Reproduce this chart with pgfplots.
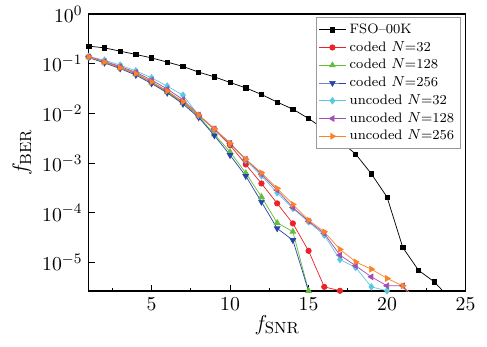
\documentclass[border=0pt]{standalone}
\usepackage{pgfplots}
\pgfplotsset{compat=1.18}
\definecolor{cred}{RGB}{235,35,40}
\definecolor{cgreen}{RGB}{100,190,60}
\definecolor{cblue}{RGB}{40,70,170}
\definecolor{ccyan}{RGB}{90,200,225}
\definecolor{cpurple}{RGB}{160,80,180}
\definecolor{corange}{RGB}{250,130,40}
\begin{document}
\begin{tikzpicture}
\path[use as bounding box] (-49.3pt,-30.6pt) rectangle (221.2pt,161.7pt);
\begin{axis}[
  at={(0,0)}, anchor=south west,
  scale only axis, width=209.3pt, height=153.9pt,
  ymode=log,
  xmin=1, xmax=25, ymin=2.66e-6, ymax=1,
  xtick={5,10,15,20,25},
  minor xtick={2.5,7.5,12.5,17.5,22.5},
  ytick={1,1e-1,1e-2,1e-3,1e-4,1e-5},
  tick pos=left,
  tick align=inside,
  major tick length=3.5pt, minor tick length=2pt,
  tick label style={font=\fontsize{11}{13}\selectfont},
  label style={font=\fontsize{12.5}{14}\selectfont},
  xlabel={$f_{\mathrm{SNR}}$},
  ylabel={$f_{\mathrm{BER}}$},
  xlabel style={yshift=4pt},
  ylabel style={yshift=-1pt},
  axis line style={line width=0.8pt},
  every tick/.style={black, line width=0.5pt},
  legend style={at={(0.988,0.99)}, anchor=north east, draw=gray!80, line width=0.6pt,
    font=\fontsize{7.6}{9}\selectfont, row sep=-1.1pt, inner sep=1.5pt},
  legend cell align=left,
  legend image code/.code={
    \draw[mark repeat=2,mark phase=2,#1] plot coordinates {(0cm,0cm) (0.26cm,0cm) (0.52cm,0cm)};},
  every axis plot/.append style={line width=0.4pt, mark size=1.5pt},
]
\addplot[black, mark=square*, mark size=1.2pt] coordinates {
(1,0.226)(2,0.209)(3,0.179)(4,0.154)(5,0.131)(6,0.108)(7,0.0883)(8,0.0678)(9,0.0545)(10,0.042)(11,0.0327)(12,0.0241)(13,0.0169)(14,0.0122)(15,0.0079)(16,0.0048)(17,0.0028)(18,0.00152)(19,6.1e-4)(20,2.07e-4)(21,2.01e-5)(22,7.0e-6)(23,4.1e-6)(24,1.9e-6)};
\addlegendentry{FSO--00K}
\addplot[cred, mark=*, mark options={fill=cred}] coordinates {
(1,0.138)(2,0.109)(3,0.0843)(4,0.0638)(5,0.0432)(6,0.0281)(7,0.0171)(8,0.00912)(9,0.00476)(10,0.0023)(11,9.4e-4)(12,3.9e-4)(13,1.55e-4)(14,6.12e-5)(15,1.72e-5)(16,3.24e-6)(17,2.7e-6)};
\addlegendentry{coded $N$=32}
\addplot[cgreen, mark=triangle*, mark options={fill=cgreen}, mark size=1.8pt] coordinates {
(1,0.136)(2,0.107)(3,0.083)(4,0.062)(5,0.042)(6,0.027)(7,0.0163)(8,0.0088)(9,0.0038)(10,0.00169)(11,6.3e-4)(12,2.1e-4)(13,6.3e-5)(14,4.2e-5)(15,2.7e-6)(16,1e-8)};
\addlegendentry{coded $N$=128}
\addplot[cblue, mark=triangle*, mark options={fill=cblue, rotate=180}, mark size=1.8pt] coordinates {
(1,0.133)(2,0.104)(3,0.08)(4,0.059)(5,0.040)(6,0.026)(7,0.0155)(8,0.0083)(9,0.0036)(10,0.00145)(11,5.5e-4)(12,1.66e-4)(13,4.86e-5)(14,2.82e-5)(15,2.65e-6)(16,1e-8)};
\addlegendentry{coded $N$=256}
\addplot[ccyan, mark=diamond*, mark options={fill=ccyan}, mark size=1.8pt] coordinates {
(1,0.14)(2,0.118)(3,0.0937)(4,0.072)(5,0.052)(6,0.0354)(7,0.0233)(8,0.0092)(9,0.0048)(10,0.0025)(11,0.00115)(12,5.55e-4)(13,2.53e-4)(14,1.23e-4)(15,6.59e-5)(16,3.56e-5)(17,1.15e-5)(18,7.97e-6)(19,3.24e-6)(20,2.7e-6)(21,1e-6)};
\addlegendentry{uncoded $N$=32}
\addplot[cpurple, mark=triangle*, mark options={fill=cpurple, rotate=90}, mark size=1.8pt] coordinates {
(1,0.138)(2,0.112)(3,0.088)(4,0.067)(5,0.047)(6,0.031)(7,0.019)(8,0.0093)(9,0.0049)(10,0.0025)(11,0.0012)(12,6.0e-4)(13,2.86e-4)(14,1.28e-4)(15,6.8e-5)(16,3.85e-5)(17,1.41e-5)(18,8.6e-6)(19,5.15e-6)(20,3.4e-6)(21,3.4e-6)(22,1.2e-6)};
\addlegendentry{uncoded $N$=128}
\addplot[corange, mark=triangle*, mark options={fill=corange, rotate=-90}, mark size=1.8pt] coordinates {
(1,0.137)(2,0.108)(3,0.083)(4,0.063)(5,0.043)(6,0.028)(7,0.0172)(8,0.0093)(9,0.0049)(10,0.0025)(11,0.0012)(12,6.38e-4)(13,3.1e-4)(14,1.48e-4)(15,7.13e-5)(16,4.15e-5)(17,1.84e-5)(18,1.03e-5)(19,7.36e-6)(20,4.79e-6)(21,3.4e-6)(22,1.64e-6)};
\addlegendentry{uncoded $N$=256}
\end{axis}
\end{tikzpicture}
\end{document}
